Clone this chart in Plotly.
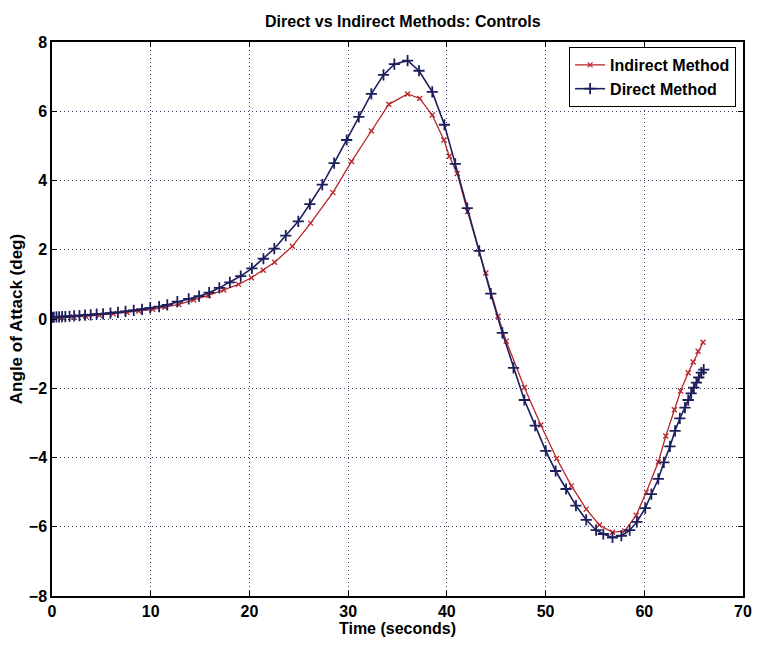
import plotly.graph_objects as go

# Indirect method (red, x markers)
ind_t = [0.0, 1.0, 2.2, 3.4, 4.8, 6.2, 7.6, 8.8, 10.2, 11.45, 12.85, 14.35, 15.85, 17.4,
         18.9, 20.2, 21.4, 22.55, 24.35, 26.2, 28.45, 30.35, 32.35, 34.12, 36.02, 37.25,
         38.52, 39.7, 40.25, 41.05, 42.1, 43.95, 45.18, 46.02, 47.85, 49.52, 51.12, 52.62,
         54.12, 55.45, 56.78, 58.02, 59.18, 60.2, 61.42, 62.18, 63.05, 63.68, 64.45, 64.95,
         65.45, 65.95]
ind_y = [0.03, 0.04, 0.06, 0.08, 0.11, 0.15, 0.19, 0.23, 0.28, 0.34, 0.42, 0.55, 0.68, 0.84,
         1.0, 1.19, 1.41, 1.64, 2.10, 2.77, 3.65, 4.55, 5.43, 6.2, 6.5, 6.37,
         5.89, 5.17, 4.7, 4.2, 3.1, 1.33, 0.08, -0.64, -1.98, -3.06, -4.03, -4.82,
         -5.49, -5.95, -6.16, -6.12, -5.67, -5.0, -4.13, -3.38, -2.62, -2.08, -1.55, -1.24,
         -0.93, -0.67]

# Direct method (blue, + markers)
dir_t = [0.05, 0.18, 0.45, 0.72, 1.02, 1.35, 1.78, 2.25, 2.78, 3.35, 3.92, 4.52, 5.18, 5.92,
         6.68, 7.45, 8.28, 9.12, 9.95, 10.85, 11.68, 12.7, 13.85, 14.9, 15.92, 16.95, 18.02,
         19.12, 20.25, 21.42, 22.52, 23.68, 24.95, 26.12, 27.38, 28.58, 29.85, 31.08, 32.35,
         33.58, 34.68, 36.02, 37.18, 38.52, 39.75, 40.85, 42.07, 43.28, 44.45, 45.62, 46.75,
         47.85, 48.95, 50.02, 51.02, 52.08, 53.08, 54.12, 55.12, 55.85, 56.78, 57.68, 58.52,
         59.25, 60.1, 60.72, 61.42, 61.98, 62.6, 63.12, 63.6, 64.12, 64.45, 64.75, 65.02,
         65.28, 65.52, 65.78, 66.02]
dir_y = [0.05, 0.05, 0.06, 0.06, 0.07, 0.07, 0.08, 0.09, 0.10, 0.11, 0.12, 0.14, 0.15, 0.17,
         0.19, 0.22, 0.25, 0.28, 0.32, 0.36, 0.41, 0.5, 0.58, 0.66, 0.76, 0.9, 1.06,
         1.24, 1.46, 1.74, 2.03, 2.41, 2.82, 3.32, 3.88, 4.50, 5.17, 5.84, 6.50,
         7.05, 7.36, 7.46, 7.17, 6.56, 5.61, 4.48, 3.2, 1.97, 0.73, -0.40, -1.41,
         -2.34, -3.08, -3.81, -4.39, -4.91, -5.39, -5.80, -6.10, -6.21, -6.31, -6.26, -6.10,
         -5.86, -5.46, -5.06, -4.62, -4.14, -3.68, -3.23, -2.87, -2.56, -2.34, -2.15, -1.98,
         -1.84, -1.69, -1.55, -1.46]

x_ticks = [0, 10, 20, 30, 40, 50, 60, 70]
y_ticks = [-8, -6, -4, -2, 0, 2, 4, 6, 8]

RED = "#b8262a"
BLUE = "#1c1f5c"
FONT = "Liberation Sans, Arial, sans-serif"

fig = go.Figure()
fig.add_trace(go.Scatter(
    x=ind_t, y=ind_y, mode="lines+markers", name="Indirect Method",
    line=dict(color=RED, width=1.3),
    marker=dict(symbol="x-thin", size=5, color=RED, line=dict(color=RED, width=1.3)),
))
fig.add_trace(go.Scatter(
    x=dir_t, y=dir_y, mode="lines+markers", name="Direct Method",
    line=dict(color=BLUE, width=1.6),
    marker=dict(symbol="cross-thin", size=8, color=BLUE, line=dict(color=BLUE, width=1.8)),
))

axis_common = dict(
    showline=True, linecolor="black", linewidth=1.5, mirror="ticks",
    ticks="inside", ticklen=5, tickcolor="black", tickwidth=1,
    showgrid=True, gridcolor="#3a3a5a", griddash="1px,3px", gridwidth=1,
    zeroline=False, tickfont=dict(family=FONT, size=16, color="black", weight="bold"),
)

fig.update_layout(
    width=763, height=645,
    margin=dict(l=52, r=11, t=42, b=47),
    paper_bgcolor="white", plot_bgcolor="white",
    title=dict(text="Direct vs Indirect Methods: Controls", x=0.528, xanchor="center",
               y=0.967, yanchor="middle",
               font=dict(family=FONT, size=16, color="black", weight="bold")),
    xaxis=dict(range=[0, 70], tickvals=x_ticks,
               title=dict(text="Time (seconds)",
                          font=dict(family=FONT, size=16, color="black", weight="bold"),
                          standoff=3),
               **axis_common),
    yaxis=dict(range=[-8, 8], tickvals=y_ticks,
               title=dict(text="Angle of Attack (deg)",
                          font=dict(family=FONT, size=17, color="black", weight="bold"),
                          standoff=2),
               **axis_common),
    legend=dict(x=0.99, y=0.991, xanchor="right", yanchor="top",
                bgcolor="white", bordercolor="black", borderwidth=1,
                font=dict(family=FONT, size=16, color="black", weight="bold"),
                tracegroupgap=0, itemwidth=30),
    showlegend=True,
)

fig.write_html("out.html")
